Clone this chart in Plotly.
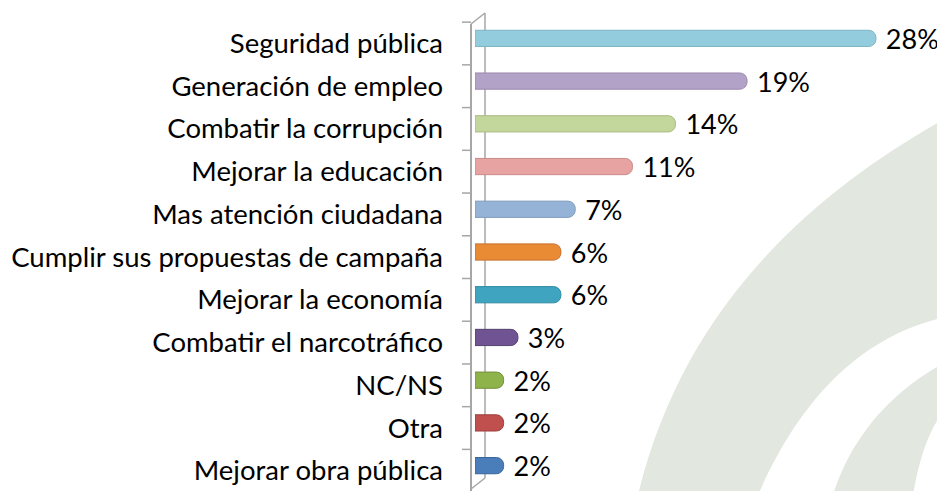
import plotly.graph_objects as go

# page body has an 8px default margin; figure is sized to fill the rest
OFF = 8
W, H = 945 - OFF, 491 - OFF

categories = [
    "Seguridad pública",
    "Generación de empleo",
    "Combatir la corrupción",
    "Mejorar la educación",
    "Mas atención ciudadana",
    "Cumplir sus propuestas de campaña",
    "Mejorar la economía",
    "Combatir el narcotráfico",
    "NC/NS",
    "Otra",
    "Mejorar obra pública",
]
values = [28, 19, 14, 11, 7, 6, 6, 3, 2, 2, 2]
value_labels = ["28%", "19%", "14%", "11%", "7%", "6%", "6%", "3%", "2%", "2%", "2%"]
bar_colors = [
    "#93cddd", "#b3a2c7", "#c3d69b", "#e6a3a1", "#95b3d7", "#e98a35",
    "#3ea4bf", "#6f5393", "#8db34a", "#c0504d", "#4a7ebb",
]
line_colors = [
    "#7fb3c2", "#9a89ae", "#a8bb82", "#c98b89", "#7f9bbd", "#c8702a",
    "#2f8aa3", "#54406f", "#748f3c", "#9c3f3c", "#3a6498",
]

FONT = "Lato, Open Sans, sans-serif"
FS = 27.5

ML, MR, MT, MB = 475 - OFF, 11, 17 - OFF, 4
PW = W - ML - MR
PH = H - MT - MB


def px(x):  # screen x -> paper
    return (x - OFF - ML) / PW


def py(y):  # screen y -> paper
    return 1 - (y - OFF - MT) / PH


fig = go.Figure()
fig.add_trace(go.Bar(
    y=categories,
    x=values,
    orientation="h",
    width=0.38,
    marker=dict(color=bar_colors, line=dict(color=line_colors, width=1), cornerradius="45%"),
    text=[" " + t for t in value_labels],
    textposition="outside",
    constraintext="none",
    textfont=dict(family=FONT, size=FS - 0.5, color="#000000"),
    cliponaxis=False,
))

shapes = []


def P(x, y):
    return f"{px(x):.5f},{py(y):.5f}"


# background watermark swooshes (decoration)
band1 = (f"M {P(950,116)} C {P(820,188)} {P(685,300)} {P(638,495)} "
         f"L {P(758,495)} C {P(800,400)} {P(860,335)} {P(950,316)} Z")
band2 = (f"M {P(950,360)} C {P(890,390)} {P(850,440)} {P(833,495)} "
         f"L {P(913,495)} C {P(920,455)} {P(930,425)} {P(950,404)} Z")
for pth in (band1, band2):
    shapes.append(dict(type="path", path=pth, xref="paper", yref="paper",
                       fillcolor="#e2e7e0", line=dict(width=0), layer="below"))

axis_col = "#a6a6a6"
shapes.append(dict(type="line", xref="paper", yref="paper", x0=px(471), y0=py(24), x1=px(471), y1=py(495),
                   line=dict(color=axis_col, width=2)))
shapes.append(dict(type="line", xref="paper", yref="paper", x0=px(485), y0=py(13), x1=px(485), y1=py(478),
                   line=dict(color=axis_col, width=1.5), layer="below"))
shapes.append(dict(type="line", xref="paper", yref="paper", x0=px(471), y0=py(24), x1=px(485), y1=py(13),
                   line=dict(color=axis_col, width=1.5)))
shapes.append(dict(type="line", xref="paper", yref="paper", x0=px(471), y0=py(489), x1=px(485), y1=py(478),
                   line=dict(color=axis_col, width=1.5)))
n = len(categories)
for i in range(n + 1):
    yb = i - 0.5 + 0.12
    shapes.append(dict(type="line", xref="paper", yref="y", x0=px(462), x1=px(471), y0=yb, y1=yb,
                       line=dict(color=axis_col, width=1.5)))

fig.update_layout(
    width=W, height=H,
    margin=dict(l=ML, r=MR, t=MT, b=MB, autoexpand=False),
    paper_bgcolor="#ffffff",
    plot_bgcolor="rgba(0,0,0,0)",
    showlegend=False,
    shapes=shapes,
    font=dict(family=FONT, size=FS, color="#000000"),
    xaxis=dict(range=[0, PW / 14.32], visible=False, showgrid=False, zeroline=False),
    yaxis=dict(
        range=[n - 0.5, -0.5],
        showgrid=False, zeroline=False, showline=False,
        ticks="", ticklabelstandoff=31, ticklabelshift=-5,
        tickfont=dict(family=FONT, size=FS, color="#000000"),
    ),
    bargap=0.6,
)

fig.write_html("out.html")
